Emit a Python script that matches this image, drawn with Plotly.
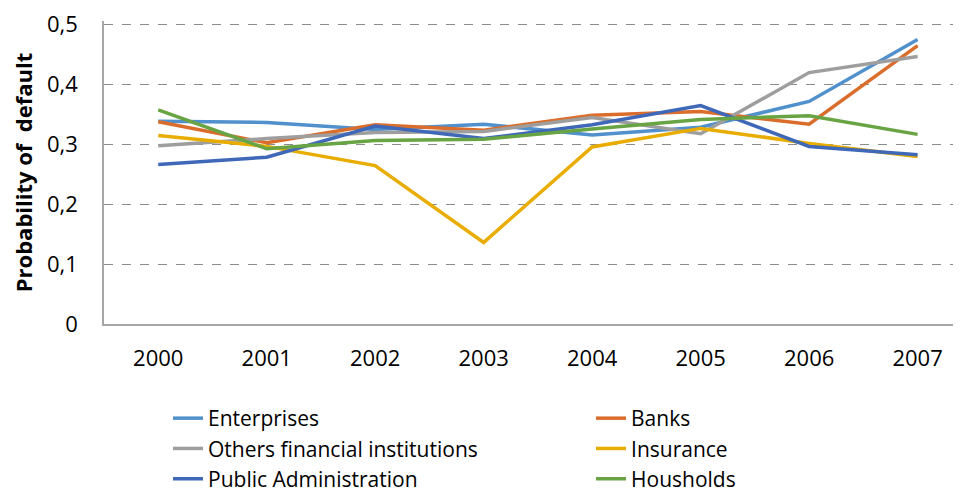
import plotly.graph_objects as go

years = ["2000", "2001", "2002", "2003", "2004", "2005", "2006", "2007"]
y_ticks = [0, 0.1, 0.2, 0.3, 0.4, 0.5]
y_tick_labels = ["0", "0,1", "0,2", "0,3", "0,4", "0,5"]

enterprises = [0.338, 0.336, 0.324, 0.333, 0.315, 0.328, 0.371, 0.474]
banks = [0.337, 0.302, 0.332, 0.323, 0.348, 0.354, 0.333, 0.464]
others_fin = [0.297, 0.309, 0.319, 0.321, 0.344, 0.317, 0.419, 0.446]
insurance = [0.314, 0.296, 0.264, 0.136, 0.295, 0.326, 0.301, 0.279]
public_admin = [0.266, 0.278, 0.330, 0.309, 0.332, 0.364, 0.296, 0.282]
housholds = [0.357, 0.292, 0.306, 0.308, 0.325, 0.341, 0.347, 0.316]

series = [
    ("Enterprises", enterprises, "#5090CC"),
    ("Banks", banks, "#DA6D2C"),
    ("Others financial institutions", others_fin, "#9E9E9E"),
    ("Insurance", insurance, "#E8AD00"),
    ("Public Administration", public_admin, "#3F68B8"),
    ("Housholds", housholds, "#68A443"),
]

font_family = "Open Sans"

fig = go.Figure()
for name, vals, color in series:
    fig.add_trace(go.Scatter(
        x=years, y=vals, name=name, mode="lines",
        line=dict(color=color, width=3.5),
    ))

fig.update_layout(
    width=961, height=491,
    margin=dict(l=96, r=8, t=13, b=175, autoexpand=False),
    paper_bgcolor="white", plot_bgcolor="white",
    separators=", ",
    font=dict(family=font_family, size=22, color="#000000"),
    showlegend=True,
    legend=dict(
        orientation="h",
        xref="paper", x=0.0747, xanchor="left",
        yref="container", y=0.0, yanchor="bottom",
        entrywidth=378, entrywidthmode="pixels",
        font=dict(family=font_family, size=21, color="#000000"),
        traceorder="normal",
        tracegroupgap=0,
        bgcolor="rgba(0,0,0,0)",
    ),
    xaxis=dict(
        type="category",
        range=[-0.5, 7.4],
        showgrid=False,
        showline=True, linecolor="#A6A6A6", linewidth=1.5,
        ticks="", ticklabelstandoff=14,
        tickfont=dict(size=22, family=font_family),
        zeroline=False, automargin=False,
        fixedrange=True,
    ),
    yaxis=dict(
        range=[0, 0.505],
        tickmode="array", tickvals=y_ticks, ticktext=y_tick_labels,
        ticklabeloverflow="allow",
        showgrid=True, gridcolor="#8C8C8C", gridwidth=1, griddash="dash",
        showline=True, linecolor="#A6A6A6", linewidth=1.5,
        zeroline=False, automargin=False,
        ticks="", ticklabelstandoff=20,
        tickfont=dict(size=22, family=font_family),
        title=dict(text="<b>Probability of  default</b>",
                   font=dict(size=22, family=font_family), standoff=8),
        fixedrange=True,
    ),
)

fig.write_html("out.html")
